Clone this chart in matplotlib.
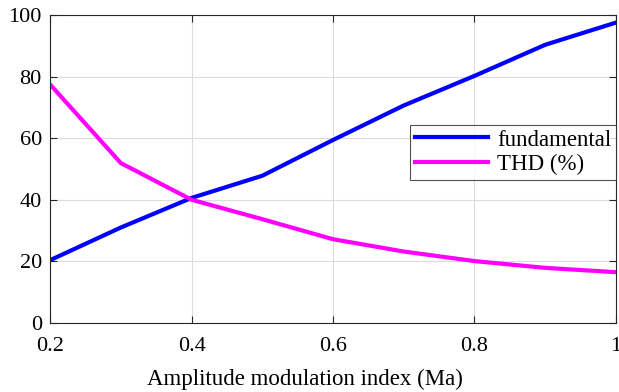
import numpy as np
import matplotlib
matplotlib.use('Agg')
import matplotlib.pyplot as plt

plt.rcParams['font.family'] = ['Liberation Serif', 'DejaVu Serif']
plt.rcParams['mathtext.fontset'] = 'stix'

# data
ma = [0.2, 0.3, 0.4, 0.5, 0.6, 0.7, 0.8, 0.9, 1.0]
fundamental = [20.4, 31.0, 40.6, 47.8, 59.4, 70.6, 80.2, 90.3, 97.5]
thd = [77.4, 51.9, 40.0, 33.7, 27.2, 23.2, 20.1, 17.9, 16.5]
xticks = [0.2, 0.4, 0.6, 0.8, 1.0]
xtick_labels = ['0.2', '0.4', '0.6', '0.8', '1']
yticks = [0, 20, 40, 60, 80, 100]

fig = plt.figure(figsize=(6.19, 3.92), dpi=100)
ax = fig.add_axes([0.081, 0.176, 0.914, 0.786])

ax.plot(ma, fundamental, color='#0000ff', linewidth=3, label='fundamental')
ax.plot(ma, thd, color='#ff00ff', linewidth=3, label='THD (%)')

ax.set_xlim(0.2, 1.0)
ax.set_ylim(0, 100)
ax.set_xticks(xticks)
ax.set_xticklabels(xtick_labels)
ax.set_yticks(yticks)
ax.tick_params(direction='in', length=5, width=0.8, top=True, right=True,
               labelsize=16, colors='#262626', labelcolor='black')
ax.tick_params(axis='x', pad=10)
ax.tick_params(axis='y', pad=6)
ax.grid(True, color='#dcdcdc', linewidth=0.8)
ax.set_axisbelow(True)
for s in ax.spines.values():
    s.set_color('#262626')
    s.set_linewidth(0.8)

ax.set_xlabel('Amplitude modulation index (Ma)', fontsize=16.5, labelpad=9)
ax.xaxis.label.set_x(0.45)  # label sits a bit left of centre in the reference

leg = ax.legend(loc='upper right', bbox_to_anchor=(1.0, 0.643), borderaxespad=0,
                fontsize=16.5, frameon=True, fancybox=False, handlelength=3.2,
                handletextpad=0.4, borderpad=0.2, labelspacing=0.15)
leg.get_frame().set_edgecolor('#262626')
leg.get_frame().set_linewidth(0.8)

fig.savefig('out.png', dpi=100)
